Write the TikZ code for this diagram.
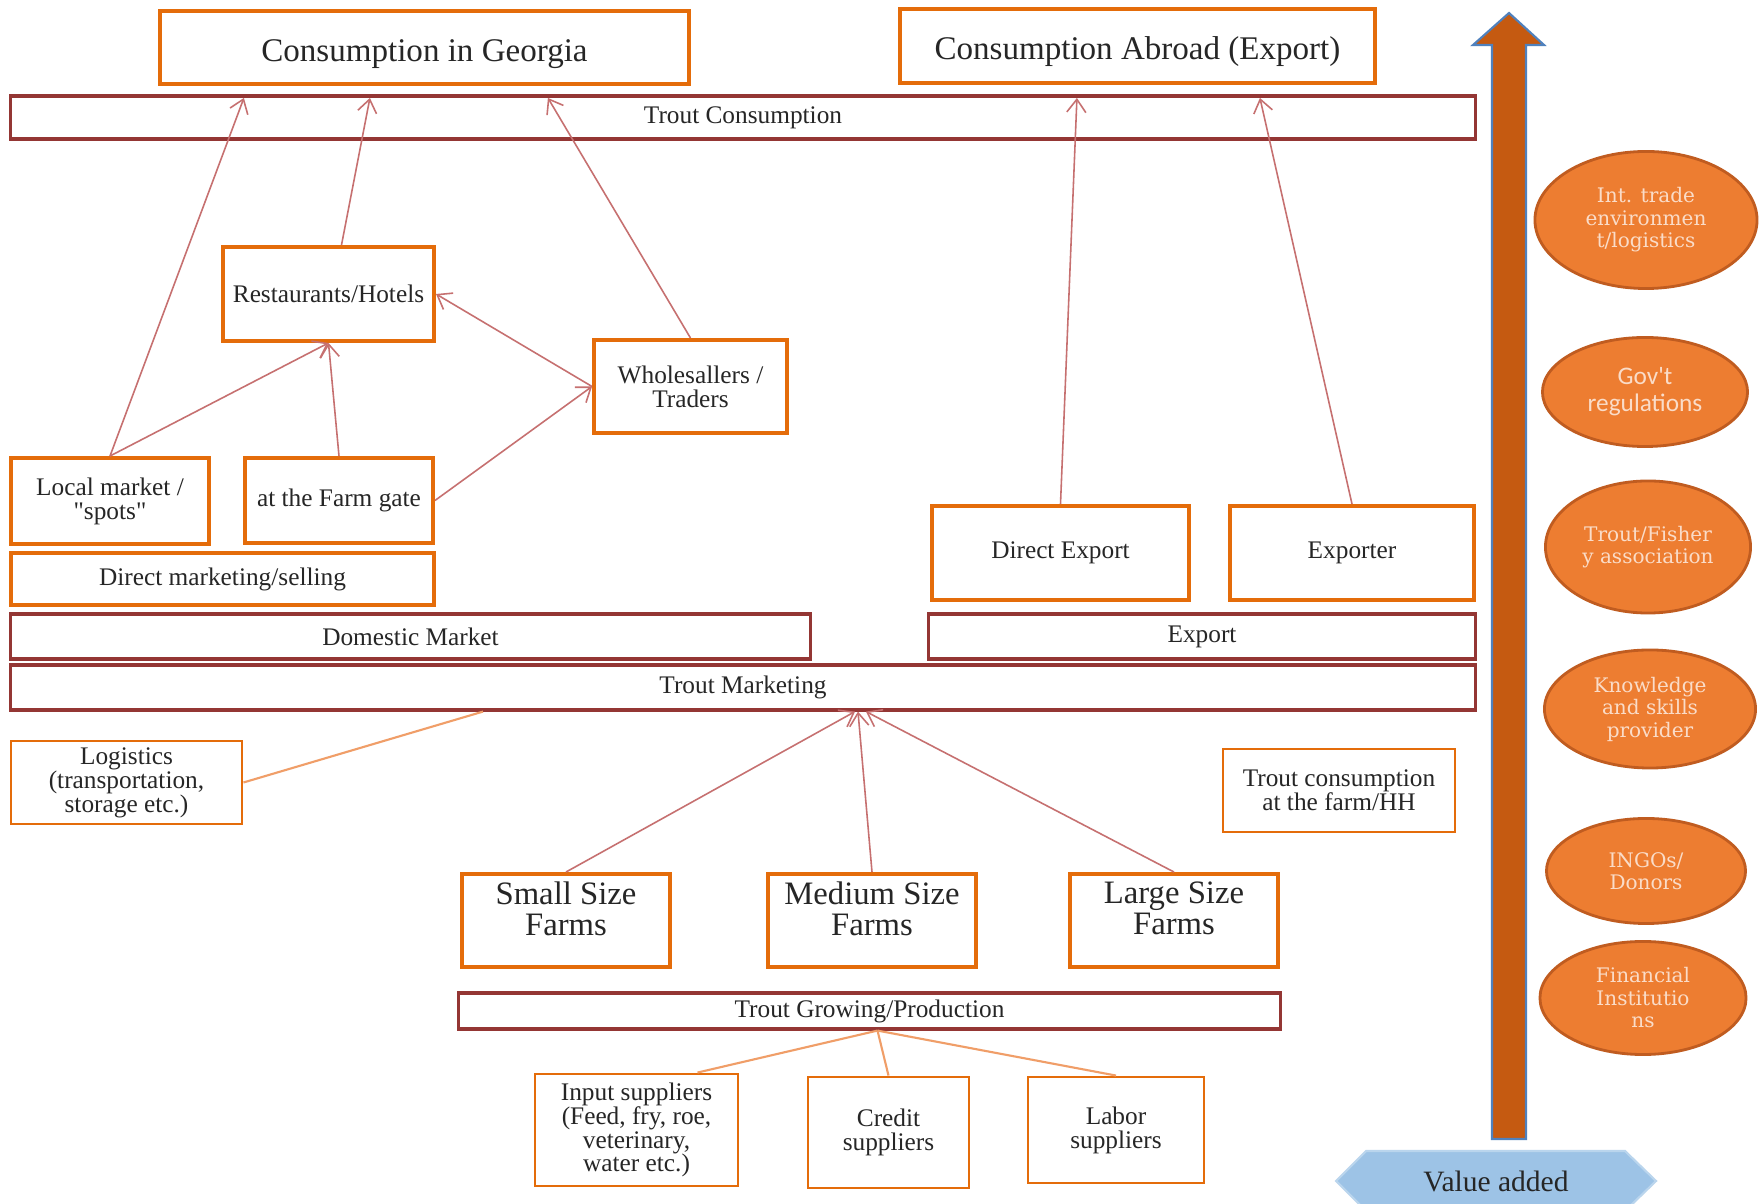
\documentclass[tikz,border=0pt]{standalone}
\usepackage{fontspec}
\setmainfont{Liberation Serif}
\newfontfamily\ellfont{DejaVu Serif}
\newfontfamily\govfont{Carlito}
\usetikzlibrary{arrows.meta,calc,shapes.geometric}
\newcommand{\straightq}{\XeTeXglyph\XeTeXglyphindex "quotedbl" }

\definecolor{boxorange}{RGB}{228,108,10}
\definecolor{barred}{RGB}{148,54,52}
\definecolor{flowred}{RGB}{198,112,112}
\definecolor{supplyline}{RGB}{240,158,104}
\definecolor{ellfill}{RGB}{237,125,49}
\definecolor{elledge}{RGB}{192,92,32}
\definecolor{elltext}{RGB}{250,220,200}
\definecolor{vaarrow}{RGB}{197,90,17}
\definecolor{vaedge}{RGB}{79,129,189}
\definecolor{vafill}{RGB}{157,195,230}
\definecolor{txt}{RGB}{38,38,38}

\begin{document}
\begin{tikzpicture}[
  x=0.01cm, y=-0.01cm,
  box/.style={draw=boxorange, line width=1.1pt, align=center, text=txt, font=\fontsize{7.2}{6.8}\selectfont, inner sep=1pt},
  thinbox/.style={box, line width=0.8pt},
  bigbox/.style={box, font=\fontsize{9.4}{9}\selectfont, text height=8.4pt, text depth=0.6pt},
  farm/.style={box, font=\fontsize{9.3}{8.8}\selectfont, text depth=7pt, minimum width=2.08cm, minimum height=0.93cm},
  bar/.style={draw=barred, line width=0.9pt, text=txt, font=\fontsize{7.2}{7}\selectfont, inner sep=1pt},
  actor/.style={ellipse, draw=elledge, line width=0.8pt, fill=ellfill, text=elltext, align=center, inner sep=0pt, font=\ellfont\fontsize{5.7}{6.4}\selectfont},
  arr/.style={draw=flowred, line width=0.45pt, -{Straight Barb[length=1.3mm, width=1.9mm]}},
  feed/.style={draw=supplyline, line width=0.6pt}
]
\fill[white] (0,0) rectangle (1763,1204);
\useasboundingbox (0,0) rectangle (1763,1204);

% consumption level
\node[bigbox, minimum width=5.29cm, minimum height=0.73cm] (cig) at (424.5,47.5) {Consumption in Georgia};
\node[bigbox, minimum width=4.75cm, minimum height=0.74cm] (cab) at (1137.5,46) {Consumption Abroad (Export)};
\node[bar, minimum width=14.64cm, minimum height=0.43cm] (tc) at (743,117.5) {Trout Consumption};

% domestic channels
\node[box, minimum width=2.11cm, minimum height=0.94cm] (rh) at (328.5,294) {Restaurants/Hotels};
\node[box, minimum width=1.93cm, minimum height=0.93cm] (ws) at (690.5,386.5) {Wholesallers /\\Traders};
\node[box, minimum width=1.98cm, minimum height=0.86cm] (lm) at (110,501) {Local market /\\\straightq spots\straightq};
\node[box, minimum width=1.88cm, minimum height=0.85cm] (fg) at (339,500.5) {at the Farm gate};
\node[box, minimum width=4.23cm, minimum height=0.52cm] (dms) at (222.5,579) {Direct marketing/selling};
\node[bar, minimum width=7.99cm, minimum height=0.45cm] (dom) at (410.5,636.5) {Domestic Market};

% export channels
\node[box, minimum width=2.57cm, minimum height=0.94cm] (dex) at (1060.5,553) {Direct Export};
\node[box, minimum width=2.44cm, minimum height=0.94cm] (expo) at (1352,553) {Exporter};
\node[bar, minimum width=5.46cm, minimum height=0.45cm] (exp) at (1202,636.5) {Export};
\node[bar, minimum width=14.64cm, minimum height=0.45cm] (tm) at (743,687.5) {Trout Marketing};

\node[thinbox, minimum width=2.31cm, minimum height=0.83cm] (log) at (126.5,782.5) {Logistics\\(transportation,\\storage etc.)};
\node[thinbox, minimum width=2.32cm, minimum height=0.83cm] (tch) at (1339,790.5) {Trout consumption\\at the farm/HH};

% production
\node[farm] (sf) at (566,920.5) {Small Size\\Farms};
\node[farm] (mf) at (872,920.5) {Medium Size\\Farms};
\node[farm] (lf) at (1174,920.5) {Large Size\\Farms};
\node[bar, minimum width=8.21cm, minimum height=0.36cm] (tg) at (869.5,1011) {Trout Growing/Production};

% suppliers
\node[thinbox, minimum width=2.03cm, minimum height=1.12cm] (ins) at (636.5,1130) {Input suppliers\\(Feed, fry, roe,\\veterinary,\\water etc.)};
\node[thinbox, minimum width=1.61cm, minimum height=1.11cm] (cs) at (888.5,1132.5) {Credit\\suppliers};
\node[thinbox, minimum width=1.76cm, minimum height=1.06cm] (ls) at (1116,1130) {Labor\\suppliers};

% flows
\draw[arr] (lm.north) -- ($(cig.south west)+(86,12)$);
\draw[arr] (lm.north) -- (rh.south);
\draw[arr] (fg.north) -- (rh.south);
\draw[arr] (fg.east) -- (ws.west);
\draw[arr] (ws.west) -- (rh.east);
\draw[arr] ($(rh.north)+(13,0)$) -- ($(cig.south west)+(212,12)$);
\draw[arr] (ws.north) -- ($(cig.south west)+(390,12)$);
\draw[arr] (dex.north) -- ($(cab.south west)+(179,13)$);
\draw[arr] (expo.north) -- ($(cab.south west)+(362,13)$);
\draw[arr] (sf.north) -- ($(tm.south)+(112,0)$);
\draw[arr] (mf.north) -- ($(tm.south)+(115,0)$);
\draw[arr] (lf.north) -- ($(tm.south)+(123,0)$);
\draw[feed] (log.east) -- ($(tm.south)+(-260,0)$);
\draw[feed] ($(tg.south)+(8,0)$) -- ($(ins.north)+(61,0)$);
\draw[feed] ($(tg.south)+(8,0)$) -- (cs.north);
\draw[feed] ($(tg.south)+(8,0)$) -- (ls.north);

% value added axis
\filldraw[fill=vaarrow, draw=vaedge, line width=0.6pt] (1492,1139) -- (1492,45) -- (1473,45) -- (1509,13) -- (1544,45) -- (1526,45) -- (1526,1139) -- cycle;
\filldraw[fill=vafill, draw=vafill!70!white, line width=0.6pt] (1336,1181) -- (1366,1151) -- (1625,1151) -- (1656,1181) -- (1625,1211) -- (1366,1211) -- cycle;
\node[font=\fontsize{8.4}{9}\selectfont, text=txt] (va) at (1496,1181) {Value added};

% supporting actors
\node[actor, minimum width=2.22cm, minimum height=1.37cm] (ite) at (1646,220) {Int. trade\\environmen\\t/logistics};
\node[actor, minimum width=2.05cm, minimum height=1.09cm, font=\govfont\fontsize{7.2}{7.7}\selectfont] (gov) at (1645,392) {Gov't\\regulations};
\node[actor, minimum width=2.05cm, minimum height=1.32cm] (tfa) at (1648,547) {Trout/Fisher\\y association};
\node[actor, minimum width=2.11cm, minimum height=1.18cm] (ksp) at (1650,709) {Knowledge\\and skills\\provider};
\node[actor, minimum width=1.99cm, minimum height=1.05cm] (ngo) at (1646,871) {INGOs/\\Donors};
\node[actor, minimum width=2.06cm, minimum height=1.13cm] (fin) at (1643,998) {Financial\\Institutio\\ns};
\end{tikzpicture}
\end{document}
